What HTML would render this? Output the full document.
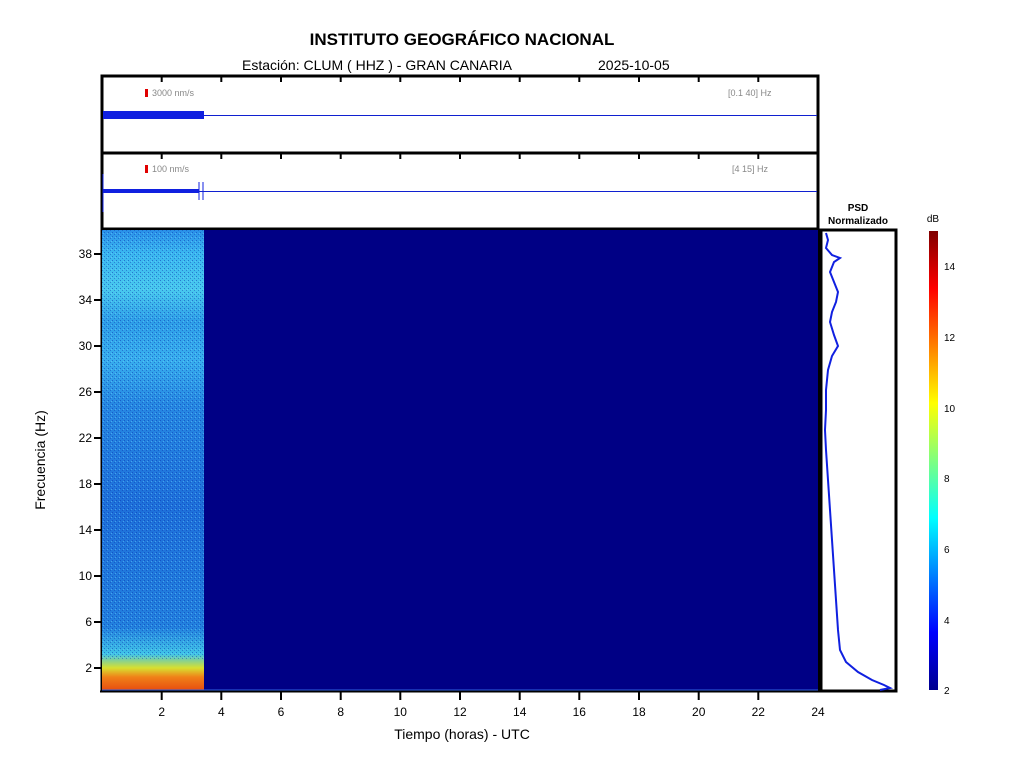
<!DOCTYPE html>
<html><head><meta charset="utf-8"><style>
body{margin:0;background:#fff;}
svg{display:block;font-family:"Liberation Sans",sans-serif;}
</style></head><body>
<svg width="1024" height="768" viewBox="0 0 1024 768" xmlns="http://www.w3.org/2000/svg">
<defs>
<linearGradient id="spec" x1="0" y1="0" x2="0" y2="1">
<stop offset="0" stop-color="#2a90e8"/>
<stop offset="0.05" stop-color="#3ab6f0"/>
<stop offset="0.13" stop-color="#48c8ee"/>
<stop offset="0.2" stop-color="#2e9ee8"/>
<stop offset="0.28" stop-color="#38aeee"/>
<stop offset="0.38" stop-color="#2688e2"/>
<stop offset="0.6" stop-color="#1e70da"/>
<stop offset="0.86" stop-color="#2280de"/>
<stop offset="0.92" stop-color="#40c4e8"/>
<stop offset="0.95" stop-color="#d8e030"/>
<stop offset="0.97" stop-color="#f08018"/>
<stop offset="1" stop-color="#e84a10"/>
</linearGradient>
<linearGradient id="jet" x1="0" y1="1" x2="0" y2="0">
<stop offset="0" stop-color="#00008f"/>
<stop offset="0.125" stop-color="#0000ff"/>
<stop offset="0.375" stop-color="#00ffff"/>
<stop offset="0.625" stop-color="#ffff00"/>
<stop offset="0.875" stop-color="#ff0000"/>
<stop offset="1" stop-color="#800000"/>
</linearGradient>
<pattern id="vt" width="4" height="4" patternUnits="userSpaceOnUse"><rect x="0" y="0" width="1" height="1" fill="#0a30b0" opacity="0.5"/><rect x="2" y="2" width="1" height="1" fill="#0a30b0" opacity="0.4"/><rect x="3" y="1" width="1" height="1" fill="#80e0ff" opacity="0.4"/></pattern>
</defs>

<text x="462" y="45" font-size="17" font-weight="bold" text-anchor="middle">INSTITUTO GEOGRÁFICO NACIONAL</text>
<text x="242" y="70" font-size="14">Estación:  CLUM ( HHZ ) - GRAN CANARIA</text>
<text x="598" y="70" font-size="14">2025-10-05</text>

<!-- trace panels -->
<rect x="102" y="76" width="716" height="77" fill="#fff" stroke="#000" stroke-width="3"/>
<rect x="102" y="153" width="716" height="76" fill="#fff" stroke="#000" stroke-width="3"/>
<g stroke="#000" stroke-width="2">
<line x1="161.7" y1="153" x2="161.7" y2="159"/><line x1="221.3" y1="153" x2="221.3" y2="159"/><line x1="281" y1="153" x2="281" y2="159"/><line x1="340.7" y1="153" x2="340.7" y2="159"/><line x1="400.3" y1="153" x2="400.3" y2="159"/><line x1="460" y1="153" x2="460" y2="159"/><line x1="519.7" y1="153" x2="519.7" y2="159"/><line x1="579.3" y1="153" x2="579.3" y2="159"/><line x1="639" y1="153" x2="639" y2="159"/><line x1="698.7" y1="153" x2="698.7" y2="159"/><line x1="758.3" y1="153" x2="758.3" y2="159"/>
<line x1="161.7" y1="76" x2="161.7" y2="82"/><line x1="221.3" y1="76" x2="221.3" y2="82"/><line x1="281" y1="76" x2="281" y2="82"/><line x1="340.7" y1="76" x2="340.7" y2="82"/><line x1="400.3" y1="76" x2="400.3" y2="82"/><line x1="460" y1="76" x2="460" y2="82"/><line x1="519.7" y1="76" x2="519.7" y2="82"/><line x1="579.3" y1="76" x2="579.3" y2="82"/><line x1="639" y1="76" x2="639" y2="82"/><line x1="698.7" y1="76" x2="698.7" y2="82"/><line x1="758.3" y1="76" x2="758.3" y2="82"/>
</g>
<rect x="145" y="89" width="3" height="8" fill="#e00000"/>
<text x="152" y="96" font-size="9" fill="#888">3000 nm/s</text>
<text x="728" y="96" font-size="9" fill="#888">[0.1 40] Hz</text>
<rect x="103" y="111" width="101" height="8" fill="#1020e0"/>
<line x1="204" y1="115.5" x2="817" y2="115.5" stroke="#1020d0" stroke-width="1"/>
<rect x="145" y="165" width="3" height="8" fill="#e00000"/>
<text x="152" y="172" font-size="9" fill="#888">100 nm/s</text>
<text x="732" y="172" font-size="9" fill="#888">[4 15] Hz</text>
<rect x="103" y="189" width="96" height="4" fill="#1020e0"/>
<line x1="103" y1="174" x2="103" y2="212" stroke="#1020e0"/>
<line x1="199" y1="182" x2="199" y2="200" stroke="#1020e0"/>
<line x1="203" y1="182" x2="203" y2="200" stroke="#1020e0"/>
<line x1="199" y1="191.5" x2="817" y2="191.5" stroke="#1020d0"/>

<!-- spectrogram -->
<rect x="102" y="230" width="716" height="461" fill="#000085"/>
<rect x="102" y="230" width="102" height="461" fill="url(#spec)"/>
<rect x="102" y="230" width="102" height="430" fill="url(#vt)"/>
<line x1="102" y1="690" x2="818" y2="690" stroke="#3060e0" stroke-width="1"/>
<rect x="100.5" y="229" width="1.5" height="463" fill="#000"/>
<line x1="100" y1="691.5" x2="820" y2="691.5" stroke="#000" stroke-width="2"/>
<line x1="819" y1="229" x2="819" y2="692" stroke="#000" stroke-width="2"/>

<g font-size="12" text-anchor="middle">
<text x="161.7" y="716">2</text><text x="221.3" y="716">4</text><text x="281" y="716">6</text><text x="340.7" y="716">8</text><text x="400.3" y="716">10</text><text x="460" y="716">12</text><text x="519.7" y="716">14</text><text x="579.3" y="716">16</text><text x="639" y="716">18</text><text x="698.7" y="716">20</text><text x="758.3" y="716">22</text><text x="818" y="716">24</text>
</g>
<g stroke="#000" stroke-width="2">
<line x1="161.7" y1="692" x2="161.7" y2="700"/><line x1="221.3" y1="692" x2="221.3" y2="700"/><line x1="281" y1="692" x2="281" y2="700"/><line x1="340.7" y1="692" x2="340.7" y2="700"/><line x1="400.3" y1="692" x2="400.3" y2="700"/><line x1="460" y1="692" x2="460" y2="700"/><line x1="519.7" y1="692" x2="519.7" y2="700"/><line x1="579.3" y1="692" x2="579.3" y2="700"/><line x1="639" y1="692" x2="639" y2="700"/><line x1="698.7" y1="692" x2="698.7" y2="700"/><line x1="758.3" y1="692" x2="758.3" y2="700"/>
<line x1="94" y1="668" x2="102" y2="668"/><line x1="94" y1="622" x2="102" y2="622"/><line x1="94" y1="576" x2="102" y2="576"/><line x1="94" y1="530" x2="102" y2="530"/><line x1="94" y1="484" x2="102" y2="484"/><line x1="94" y1="438" x2="102" y2="438"/><line x1="94" y1="392" x2="102" y2="392"/><line x1="94" y1="346" x2="102" y2="346"/><line x1="94" y1="300" x2="102" y2="300"/><line x1="94" y1="254" x2="102" y2="254"/>
</g>
<g font-size="12" text-anchor="end">
<text x="92" y="672">2</text><text x="92" y="626">6</text><text x="92" y="580">10</text><text x="92" y="534">14</text><text x="92" y="488">18</text><text x="92" y="442">22</text><text x="92" y="396">26</text><text x="92" y="350">30</text><text x="92" y="304">34</text><text x="92" y="258">38</text>
</g>
<text x="462" y="739" font-size="14" text-anchor="middle">Tiempo (horas) - UTC</text>
<text transform="translate(45,460) rotate(-90)" font-size="14" text-anchor="middle">Frecuencia  (Hz)</text>

<!-- PSD -->
<text x="858" y="211" font-size="10" font-weight="bold" text-anchor="middle">PSD</text>
<text x="858" y="224" font-size="10" font-weight="bold" text-anchor="middle">Normalizado</text>
<rect x="821" y="230" width="75" height="461" fill="#fff" stroke="#000" stroke-width="3"/>
<polyline fill="none" stroke="#1020e0" stroke-width="2" points="826,233 828,240 826,248 832,255 840,258 834,262 830,272 834,282 838,292 836,302 832,312 830,322 834,335 838,346 832,356 828,370 826,390 826,410 825,430 826,450 828,480 830,510 832,540 834,570 836,600 838,630 840,650 846,662 858,672 872,680 884,685 890,688 880,690"/>

<!-- colorbar -->
<text x="933" y="222" font-size="10" text-anchor="middle">dB</text>
<rect x="929" y="231" width="9" height="459" fill="url(#jet)"/>
<g font-size="10">
<text x="944" y="694">2</text><text x="944" y="624">4</text><text x="944" y="553">6</text><text x="944" y="482">8</text><text x="944" y="412">10</text><text x="944" y="341">12</text><text x="944" y="270">14</text>
</g>
</svg>
</body></html>
